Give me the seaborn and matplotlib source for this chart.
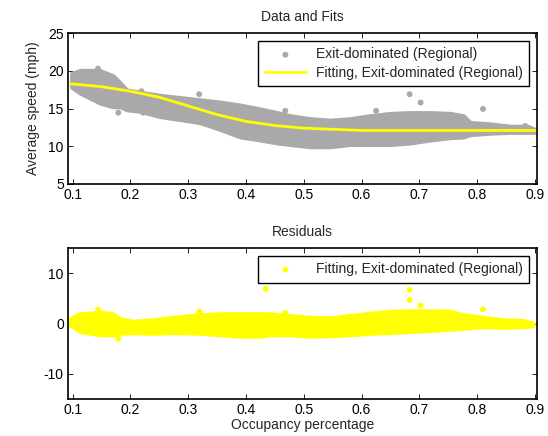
import pandas as pd
import seaborn as sns
import matplotlib.pyplot as plt

# ---- top panel: envelope of the dense gray cloud ----
band_x = [0.098, 0.113, 0.147, 0.170, 0.182, 0.194, 0.217, 0.251, 0.286, 0.320,
          0.355, 0.390, 0.424, 0.454, 0.476, 0.511, 0.546, 0.580, 0.615, 0.650,
          0.684, 0.719, 0.753, 0.776, 0.788, 0.823, 0.857, 0.887, 0.899]
band_hi = [19.7, 20.1, 20.1, 19.4, 18.5, 17.5, 17.2, 16.8, 16.5, 16.2,
           15.9, 15.5, 15.0, 14.5, 14.1, 13.7, 13.5, 13.7, 14.1, 14.4,
           14.5, 14.5, 14.4, 14.1, 13.2, 13.0, 12.7, 12.7, 12.3]
band_lo = [17.8, 17.0, 15.7, 15.2, 15.2, 14.8, 14.6, 13.9, 13.5, 13.1,
           12.2, 11.2, 10.8, 10.4, 10.2, 9.9, 9.9, 10.2, 10.2, 10.2,
           10.4, 10.8, 11.1, 11.2, 11.5, 11.7, 11.8, 11.8, 11.8]

# isolated points outside the cloud
out_x = [0.144, 0.179, 0.222, 0.219, 0.319, 0.468, 0.625, 0.683, 0.702, 0.810, 0.883]
out_y = [20.3, 14.45, 14.45, 17.3, 16.9, 14.7, 14.7, 16.9, 15.8, 14.95, 12.7]

# fitted curve
fit_x = [0.095, 0.15, 0.2, 0.25, 0.3, 0.35, 0.4, 0.45, 0.5, 0.55, 0.6, 0.7, 0.8, 0.9]
fit_y = [18.3, 17.9, 17.3, 16.5, 15.35, 14.2, 13.3, 12.75, 12.4, 12.25, 12.1, 12.1, 12.1, 12.1]

# ---- bottom panel: residuals ----
res_x = [0.095, 0.113, 0.147, 0.170, 0.182, 0.205, 0.240, 0.274, 0.320, 0.355,
         0.390, 0.424, 0.442, 0.476, 0.511, 0.546, 0.580, 0.615, 0.650, 0.684,
         0.719, 0.753, 0.776, 0.810, 0.845, 0.880, 0.897]
res_hi = [1.0, 2.0, 2.3, 2.0, 1.0, 0.5, 0.8, 1.3, 1.8, 2.0,
          2.0, 2.0, 2.0, 1.65, 1.3, 1.2, 1.65, 2.1, 2.5, 2.6,
          2.6, 2.5, 1.8, 1.3, 0.8, 0.65, 0.1]
res_lo = [-0.3, -1.65, -2.3, -2.3, -2.0, -1.9, -2.0, -1.85, -2.0, -2.3,
          -2.6, -2.6, -2.3, -2.3, -2.6, -2.5, -2.3, -2.0, -1.85, -1.65,
          -1.45, -1.2, -1.0, -0.7, -0.8, -0.7, -0.5]
rout_x = [0.144, 0.179, 0.319, 0.434, 0.468, 0.683, 0.683, 0.702, 0.810]
rout_y = [2.8, -3.0, 2.4, 6.9, 2.1, 6.7, 4.7, 3.6, 2.8]

label_data = 'Exit-dominated (Regional)'
label_fit = 'Fitting, Exit-dominated (Regional)'
gray = '#a9a9a9'
yellow = '#ffff00'

sns.set_style('white')
plt.rcParams['font.family'] = ['Liberation Sans', 'DejaVu Sans']
plt.rcParams['font.size'] = 10
plt.rcParams['axes.unicode_minus'] = False

fig = plt.figure(figsize=(5.48, 4.36), dpi=100)
ax1 = fig.add_axes([0.124, 0.578, 0.856, 0.346])
ax2 = fig.add_axes([0.124, 0.085, 0.856, 0.346])

# top
ax1.fill_between(band_x, band_lo, band_hi, color=gray, lw=2.5, joinstyle='round')
sns.scatterplot(x=out_x, y=out_y, ax=ax1, color=gray, s=18, edgecolor='none',
                label=label_data)
sns.lineplot(x=fit_x, y=fit_y, ax=ax1, color=yellow, lw=2, label=label_fit)
ax1.set_title('Data and Fits', fontsize=10, pad=9)
ax1.set_ylabel('Average speed (mph)', fontsize=10, labelpad=6)
ax1.set_ylim(5, 25)
ax1.set_yticks([5, 10, 15, 20, 25])

# bottom
ax2.fill_between(res_x, res_lo, res_hi, color=yellow, lw=2.5, joinstyle='round')
sns.scatterplot(x=rout_x, y=rout_y, ax=ax2, color=yellow, s=18, edgecolor='none',
                label=label_fit)
ax2.set_title('Residuals', fontsize=10, pad=9)
ax2.set_xlabel('Occupancy percentage', fontsize=10, labelpad=1)
ax2.set_ylim(-15, 15)
ax2.set_yticks([-10, 0, 10])

for ax in (ax1, ax2):
    ax.set_xlim(0.092, 0.9035)
    ax.set_xticks([0.1, 0.2, 0.3, 0.4, 0.5, 0.6, 0.7, 0.8, 0.9])
    ax.tick_params(direction='in', bottom=True, left=True, top=True, right=True,
                   length=3.4, width=0.6, labelsize=10, pad=3, colors='black')
    for sp in ax.spines.values():
        sp.set_linewidth(1.2)
        sp.set_color('black')
    leg = ax.legend(loc='upper right', bbox_to_anchor=(0.983, 0.947),
                    fancybox=False, framealpha=1, edgecolor='black',
                    handlelength=3, handletextpad=0.7, borderpad=0.45,
                    borderaxespad=0, labelspacing=0.3, fontsize=10, markerscale=1)
    leg.get_frame().set_linewidth(1.0)

fig.savefig('out.png', dpi=100)
